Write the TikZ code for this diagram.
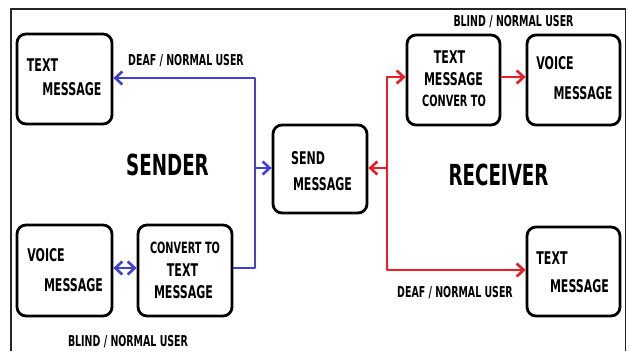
\documentclass[tikz,border=0pt]{standalone}
\usepackage{fontspec}
\setmainfont[FakeStretch=0.63]{DejaVu Sans}
\usetikzlibrary{arrows.meta}
\definecolor{linkblue}{RGB}{64,64,212}
\definecolor{linkred}{RGB}{238,28,36}
\begin{document}
\begin{tikzpicture}[x=1pt,y=-1pt,
  box/.style={draw=black, line width=2.8pt, rounded corners=9pt, inner sep=0pt},
  boxtext/.style={font=\bfseries\fontsize{17.5}{17.5}\selectfont, inner sep=0pt, anchor=base},
  smalltext/.style={font=\bfseries\fontsize{15.5}{15.5}\selectfont, inner sep=0pt, anchor=base},
  label/.style={font=\bfseries\fontsize{15}{15}\selectfont, inner sep=0pt, anchor=base},
  title/.style={font=\bfseries\fontsize{29}{29}\selectfont, inner sep=0pt, anchor=base},
  tip/.tip={Straight Barb[length=7pt,width=13pt]},
  bluelink/.style={draw=linkblue, line width=2.6pt, line join=round},
  redlink/.style={draw=linkred, line width=2.6pt, line join=round}]
  \useasboundingbox (0,0) rectangle (629,351);
  % outer frame, open at the bottom
  \draw[line width=1.3pt, black!85] (11,351) -- (11,9) -- (625.5,9) -- (625.5,351);

  % boxes
  \node[box, minimum width=95pt, minimum height=90pt] (tm1) at (64.5,79) {};
  \node[box, minimum width=95pt, minimum height=91pt] (vm1) at (64.5,270.5) {};
  \node[box, minimum width=94pt, minimum height=91pt] (conv) at (185,270.5) {};
  \node[box, minimum width=94pt, minimum height=88pt] (send) at (320,169) {};
  \node[box, minimum width=93pt, minimum height=90pt] (tmc) at (453.5,80) {};
  \node[box, minimum width=93pt, minimum height=90pt] (vm2) at (573.5,80) {};
  \node[box, minimum width=93pt, minimum height=89pt] (tm2) at (573.5,271.5) {};

  % box texts
  \node[boxtext] (tm1a) at (42.5,71) {TEXT};
  \node[boxtext] (tm1b) at (72,95.5) {MESSAGE};
  \node[boxtext] (vm1a) at (46,261) {VOICE};
  \node[boxtext] (vm1b) at (73.5,291) {MESSAGE};
  \node[smalltext] (conva) at (185,253) {CONVERT TO};
  \node[boxtext] (convb) at (182.5,276) {TEXT};
  \node[boxtext] (convc) at (183.5,298) {MESSAGE};
  \node[boxtext] (senda) at (308,164.5) {SEND};
  \node[boxtext] (sendb) at (322.5,190) {MESSAGE};
  \node[boxtext] (tmca) at (449.5,63) {TEXT};
  \node[boxtext] (tmcb) at (453.5,85.5) {MESSAGE};
  \node[smalltext] (tmcc) at (454,106) {CONVER TO};
  \node[boxtext] (vm2a) at (555,69) {VOICE};
  \node[boxtext] (vm2b) at (583,99) {MESSAGE};
  \node[boxtext] (tm2a) at (552,264.5) {TEXT};
  \node[boxtext] (tm2b) at (579.5,292) {MESSAGE};

  % titles and labels
  \node[title] (sender) at (167.5,175) {SENDER};
  \node[title] (receiver) at (498.5,185) {RECEIVER};
  \node[label] (deaf1) at (186,65) {DEAF / NORMAL USER};
  \node[label] (blind1) at (513.5,26) {BLIND / NORMAL USER};
  \node[label] (blind2) at (128,346) {BLIND / NORMAL USER};
  \node[label] (deaf2) at (455,297.5) {DEAF / NORMAL USER};

  % sender side connectors
  \coordinate (btop) at (255,78);
  \coordinate (bmid) at (255,168);
  \coordinate (blow) at (255,268);
  \path[bluelink, -tip] (blow -| conv.east) -- (blow) -- (btop) -- (btop -| tm1.east);
  \path[bluelink, -tip] (bmid) -- (bmid -| send.west);
  \path[bluelink, tip-tip] (blow -| vm1.east) -- (blow -| conv.west);

  % receiver side connectors
  \coordinate (rtop) at (387,77);
  \coordinate (rmid) at (387,168);
  \coordinate (rlow) at (387,270);
  \path[redlink, tip-tip] (rtop -| tmc.west) -- (rtop) -- (rlow) -- (rlow -| tm2.west);
  \path[redlink, -tip] (rmid) -- (rmid -| send.east);
  \path[redlink, -tip] (rtop -| tmc.east) -- (rtop -| vm2.west);
\end{tikzpicture}
\end{document}
